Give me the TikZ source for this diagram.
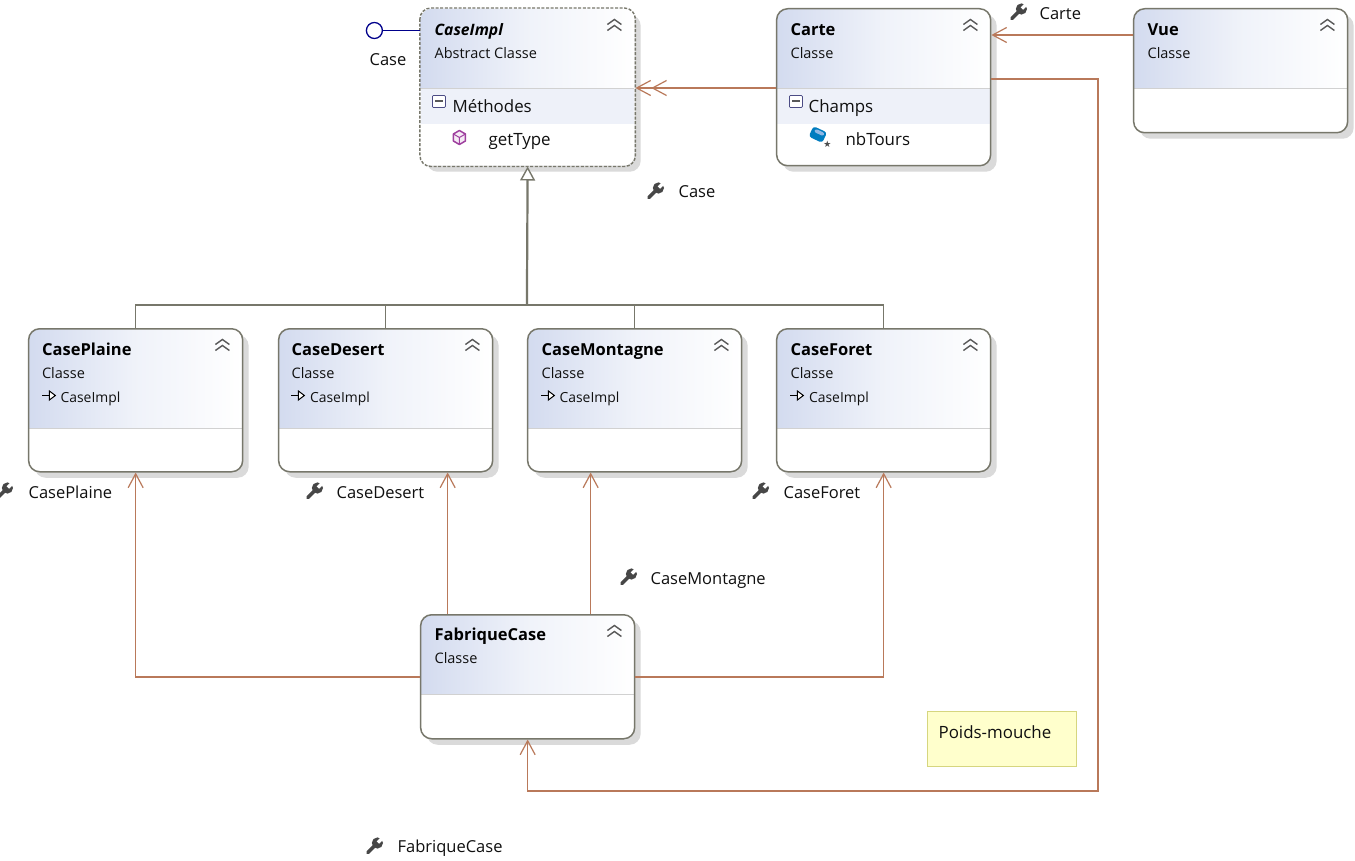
\documentclass[tikz,border=0pt]{standalone}
\usepackage{fontspec}
\setmainfont{Open Sans}
\newfontfamily\symfont{DejaVu Sans}
\usetikzlibrary{arrows.meta,shadows,calc}
\definecolor{hdr}{HTML}{D3DBEF}
\definecolor{band}{HTML}{EEF1F9}
\definecolor{edge}{HTML}{77776B}
\definecolor{link}{HTML}{B9795A}
\definecolor{gen}{HTML}{77776B}
\definecolor{shade}{HTML}{DADADA}
\definecolor{ink}{HTML}{101010}
\definecolor{lolli}{HTML}{00008B}
\definecolor{notefill}{HTML}{FFFFCC}
\definecolor{noteedge}{HTML}{D6D67F}
\tikzset{
  x=1pt,y=-1pt,
  umlbox/.style n args={3}{draw=edge,line width=1.5pt,rounded corners=11pt,anchor=north west,inner sep=0pt,fill=white,
    minimum width=214pt,minimum height=#1pt,
    drop shadow={shadow xshift=6pt,shadow yshift=-6pt,fill=shade,opacity=1},
    path picture={
      \shade[sharp corners,left color=hdr,right color=white,middle color=hdr!35]
        (path picture bounding box.north west) rectangle ([yshift=-#2pt]path picture bounding box.north east);
      \fill[sharp corners,band] ([yshift=-#2pt]path picture bounding box.north west) rectangle ([yshift=-#3pt]path picture bounding box.north east);
      \draw[sharp corners,black!18,line width=.8pt] ([yshift=-#2pt]path picture bounding box.north west) -- ([yshift=-#2pt]path picture bounding box.north east);
    }},
  title/.style={anchor=base west,inner sep=0pt,font=\fontsize{16.5}{18}\selectfont\bfseries,text=black},
  sub/.style={anchor=base west,inner sep=0pt,font=\fontsize{14.5}{16}\selectfont,text=ink},
  impl/.style={anchor=base west,inner sep=0pt,font=\fontsize{13.9}{16}\selectfont,text=ink},
  member/.style={anchor=base west,inner sep=0pt,font=\fontsize{16.9}{18}\selectfont,text=ink},
  lab/.style={anchor=base west,inner sep=0pt,font=\fontsize{16.5}{18}\selectfont,text=ink},
  assoc/.style={draw=link,line width=1.5pt,-{Straight Barb[length=14pt,width=15pt,line width=1.2pt]}},
  dblassoc/.style={draw=link,line width=1.5pt,-{Straight Barb[length=14pt,width=15pt,line width=1.2pt]Straight Barb[length=14pt,width=15pt,line width=1.2pt]}},
  realize/.style={draw=gen,-{Triangle[open,fill=white,length=14pt,width=15pt,line width=1.4pt]}},
  plainlink/.style={draw=gen,line width=1.5pt},
  wrench/.pic={
    \draw[line width=3.6pt,line cap=round,draw=black!72] (-6,6.5) -- (2,-1.5);
    \fill[black!72] (3.5,-3) circle (5.6);
    \draw[white,line width=3.4pt] (4,-3.5) -- (10,-9.5);
  },
  chev/.pic={
    \draw[black!65,line width=1.4pt,line join=miter] (-7,-1) -- (0,-6) -- (7,-1);
    \draw[black!65,line width=1.4pt,line join=miter] (-7,5) -- (0,0) -- (7,5);
  },
  minusbox/.pic={
    \draw[rounded corners=1pt,draw=black!45!blue!40!gray,fill=white,line width=.8pt] (-6.5,-6) rectangle (6.5,6);
    \fill[black!65] (-4,-1) rectangle (4,1);
  },
  implicon/.pic={
    \draw[black,line width=1pt] (-7,0) -- (0,0);
    \draw[black,fill=white,line width=1pt] (0,-4.5) -- (6,0) -- (0,4.5) -- cycle;
  },
  cube/.pic={
    \draw[violet!75!white,fill=violet!8,line width=1.5pt,line join=round] (0,-7) -- (6,-3.5) -- (6,3.5) -- (0,7) -- (-6,3.5) -- (-6,-3.5) -- cycle;
    \draw[violet!75!white,line width=1pt] (-6,-3.5) -- (0,0) -- (6,-3.5) (0,0) -- (0,7);
  },
  fieldicon/.pic={
    \fill[blue!35!cyan!75!black,rotate=-25,rounded corners=3pt] (-8,-5.5) rectangle (7,6);
    \fill[cyan!60!blue!45,rotate=-25,rounded corners=2pt] (-5,-4) rectangle (5,-.5);
    \node[inner sep=0pt,text=black!70,font=\symfont\fontsize{9}{9}\selectfont] (star) at (9,10) {★};
  },
}
\begin{document}
\begin{tikzpicture}
\useasboundingbox[fill=white] (0.6,0.5) rectangle (1355.6,861.5);

% boxes
\node[umlbox={157}{79.5}{115.5},draw=none] (CaseImpl) at (420.5,8.5) {};
\draw[edge,line width=1.4pt,dash pattern=on 3pt off 1.6pt,rounded corners=11pt] (CaseImpl.north west) rectangle (CaseImpl.south east);
\node[umlbox={157}{79.5}{115.5}] (Carte) at (776.5,8.5) {};
\node[umlbox={124}{79.5}{79.5}] (Vue) at (1133.5,8.5) {};
\node[umlbox={143}{99.5}{99.5}] (CasePlaine) at (28.5,328.5) {};
\node[umlbox={143}{99.5}{99.5}] (CaseDesert) at (278.5,328.5) {};
\node[umlbox={143}{99.5}{99.5}] (CaseMontagne) at (527.5,328.5) {};
\node[umlbox={143}{99.5}{99.5}] (CaseForet) at (776.5,328.5) {};
\node[umlbox={124}{79.5}{79.5}] (FabriqueCase) at (420.5,614.5) {};
\node[draw=noteedge,line width=1.5pt,fill=notefill,anchor=north west,minimum width=149pt,minimum height=55pt,inner sep=0pt] (Note) at (927.5,711) {};

% connectors
\coordinate (trunk) at (527.5,305.5);
\coordinate (vueLink) at (1000,35.5);
\coordinate (carteLink) at (700,88.5);
\draw[plainlink] (CasePlaine.north) |- (trunk);
\draw[plainlink] (CaseDesert.north) |- (trunk);
\draw[plainlink] (CaseMontagne.north) |- (trunk);
\draw[plainlink] (CaseForet.north) |- (trunk);
\draw[realize,line width=2.2pt] (trunk) -- (CaseImpl.south);

\draw[dblassoc] (Carte.west |- carteLink) -- (CaseImpl.east |- carteLink);
\draw[assoc] (Vue.west |- vueLink) -- (Carte.east |- vueLink);
\coordinate (routeA) at (1098.5,79.5);
\coordinate (routeB) at (1098.5,791.5);
\draw[assoc] (Carte.east |- routeA) -- (routeA) -- (routeB) -| (FabriqueCase.south);
\draw[assoc] (FabriqueCase.west) -| (CasePlaine.south);
\draw[assoc] (FabriqueCase.east) -| (CaseForet.south);
\draw[assoc] ([xshift=-80pt]FabriqueCase.north) -- ([xshift=-80pt]FabriqueCase.north |- CaseDesert.south);
\draw[assoc] ([xshift=63pt]FabriqueCase.north) -- ([xshift=63pt]FabriqueCase.north |- CaseMontagne.south);

% lollipop
\node[draw=lolli,line width=1.3pt,fill=white,circle,minimum size=16pt,inner sep=0pt] (Lolli) at (375,31) {};
\draw[lolli,line width=1.3pt] (Lolli.east) -- (Lolli.east -| CaseImpl.west);
\node[lab] (tCase0) at (370,66) {Case};

% texts in boxes
\node[title,font=\fontsize{15.7}{18}\selectfont\bfseries\itshape] (t1) at (435,36) {CaseImpl};
\node[sub] (s1) at (435,59) {Abstract Classe};
\node[member] (m1) at (453,113.5) {Méthodes};
\node[member] (m2) at (489,146) {getType};
\node[title] (t2) at (791,36) {Carte};
\node[sub] (s2) at (791,59) {Classe};
\node[member] (m3) at (809,113.5) {Champs};
\node[member] (m4) at (846,146) {nbTours};
\node[title] (t3) at (1148,36) {Vue};
\node[sub] (s3) at (1148,59) {Classe};
\node[title] (t4) at (42.5,356) {CasePlaine};
\node[sub] (s4) at (42.5,379) {Classe};
\node[impl] (i4) at (61,403) {CaseImpl};
\node[title] (t5) at (292,356) {CaseDesert};
\node[sub] (s5) at (292,379) {Classe};
\node[impl] (i5) at (310.5,403) {CaseImpl};
\node[title] (t6) at (542,356) {CaseMontagne};
\node[sub] (s6) at (542,379) {Classe};
\node[impl] (i6) at (560,403) {CaseImpl};
\node[title] (t7) at (791,356) {CaseForet};
\node[sub] (s7) at (791,379) {Classe};
\node[impl] (i7) at (809.5,403) {CaseImpl};
\node[title] (t8) at (435,641) {FabriqueCase};
\node[sub] (s8) at (435,664) {Classe};
\node[lab,font=\fontsize{16.9}{18}\selectfont] (tNote) at (939,739) {Poids-mouche};

% labels with wrench
\node[lab] (l1) at (1040,20) {Carte};
\node[lab] (l2) at (679,198) {Case};
\node[lab] (l3) at (29,499) {CasePlaine};
\node[lab] (l4) at (337,499) {CaseDesert};
\node[lab] (l5) at (784,499) {CaseForet};
\node[lab] (l6) at (651,585) {CaseMontagne};
\node[lab] (l7) at (398,853) {FabriqueCase};

% icons
\foreach \p in {(1018.5,12.5),(655.5,191.5),(4.5,491.5),(314.5,491.5),(760.5,491.5),(628.5,577.5),(374.5,846.5)}
  \pic at \p {wrench};
\foreach \p in {(615,26),(971,26),(1328,26),(223,346),(473,346),(722,346),(971,346),(615,632)}
  \pic at \p {chev};
\pic at (439.5,102) {minusbox};
\pic at (796.5,102) {minusbox};
\pic at (460,138) {cube};
\pic at (819,135) {fieldicon};
\foreach \p in {(50,396),(299,396),(549,396),(798,396)}
  \pic at \p {implicon};
\end{tikzpicture}
\end{document}
